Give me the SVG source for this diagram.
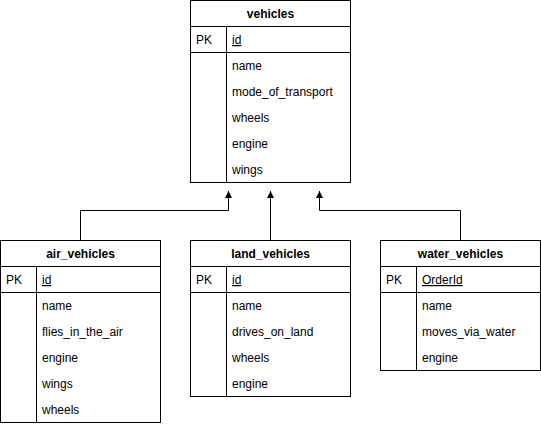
<svg xmlns="http://www.w3.org/2000/svg" width="541" height="426" viewBox="0 0 541 426">
<defs>
<marker id="arr" markerWidth="7" markerHeight="8" refX="7" refY="3.5" orient="auto" markerUnits="userSpaceOnUse">
<path d="M0,0 L7,3.5 L0,7 Z" fill="#000"/>
</marker>
<style>
.box{fill:#fff;stroke:#000;stroke-width:1}
.ln{stroke:#000;stroke-width:1;fill:none}
.t{font-family:"Liberation Sans",Arial,sans-serif;font-size:12px;fill:#000}
.h{font-family:"Liberation Sans",Arial,sans-serif;font-size:12px;font-weight:bold;fill:#000;text-anchor:middle}
.u{text-decoration:underline}
.c{stroke:#000;stroke-width:1;fill:none}
</style>
</defs>
<rect width="541" height="426" fill="#fff"/>
<g id="connectors">
<path class="c" d="M80.5,240 V210.5 H228.5 V191" marker-end="url(#arr)"/>
<path class="c" d="M270.5,240 V191" marker-end="url(#arr)"/>
<path class="c" d="M460.5,240 V210.5 H319.5 V191" marker-end="url(#arr)"/>
</g>
<g id="vehicles">
<rect class="box" x="190.5" y="0.5" width="160" height="182"/>
<line class="ln" x1="190.5" y1="26.5" x2="350.5" y2="26.5"/>
<line class="ln" x1="190.5" y1="52.5" x2="350.5" y2="52.5"/>
<line class="ln" x1="226.5" y1="26.5" x2="226.5" y2="182.5"/>
<text class="h" x="270.5" y="18">vehicles</text>
<text class="t" x="196" y="44">PK</text>
<text class="t u" x="232" y="44">id</text>
<text class="t" x="232" y="70">name</text>
<text class="t" x="232" y="96">mode_of_transport</text>
<text class="t" x="232" y="122">wheels</text>
<text class="t" x="232" y="148">engine</text>
<text class="t" x="232" y="174">wings</text>
</g>
<g id="air_vehicles">
<rect class="box" x="0.5" y="240.5" width="160" height="182"/>
<line class="ln" x1="0.5" y1="266.5" x2="160.5" y2="266.5"/>
<line class="ln" x1="0.5" y1="292.5" x2="160.5" y2="292.5"/>
<line class="ln" x1="36.5" y1="266.5" x2="36.5" y2="422.5"/>
<text class="h" x="80.5" y="258">air_vehicles</text>
<text class="t" x="6" y="284">PK</text>
<text class="t u" x="42" y="284">id</text>
<text class="t" x="42" y="310">name</text>
<text class="t" x="42" y="336">flies_in_the_air</text>
<text class="t" x="42" y="362">engine</text>
<text class="t" x="42" y="388">wings</text>
<text class="t" x="42" y="414">wheels</text>
</g>
<g id="land_vehicles">
<rect class="box" x="190.5" y="240.5" width="160" height="156"/>
<line class="ln" x1="190.5" y1="266.5" x2="350.5" y2="266.5"/>
<line class="ln" x1="190.5" y1="292.5" x2="350.5" y2="292.5"/>
<line class="ln" x1="226.5" y1="266.5" x2="226.5" y2="396.5"/>
<text class="h" x="270.5" y="258">land_vehicles</text>
<text class="t" x="196" y="284">PK</text>
<text class="t u" x="232" y="284">id</text>
<text class="t" x="232" y="310">name</text>
<text class="t" x="232" y="336">drives_on_land</text>
<text class="t" x="232" y="362">wheels</text>
<text class="t" x="232" y="388">engine</text>
</g>
<g id="water_vehicles">
<rect class="box" x="380.5" y="240.5" width="160" height="130"/>
<line class="ln" x1="380.5" y1="266.5" x2="540.5" y2="266.5"/>
<line class="ln" x1="380.5" y1="292.5" x2="540.5" y2="292.5"/>
<line class="ln" x1="416.5" y1="266.5" x2="416.5" y2="370.5"/>
<text class="h" x="460.5" y="258">water_vehicles</text>
<text class="t" x="386" y="284">PK</text>
<text class="t u" x="422" y="284">OrderId</text>
<text class="t" x="422" y="310">name</text>
<text class="t" x="422" y="336">moves_via_water</text>
<text class="t" x="422" y="362">engine</text>
</g>
</svg>
